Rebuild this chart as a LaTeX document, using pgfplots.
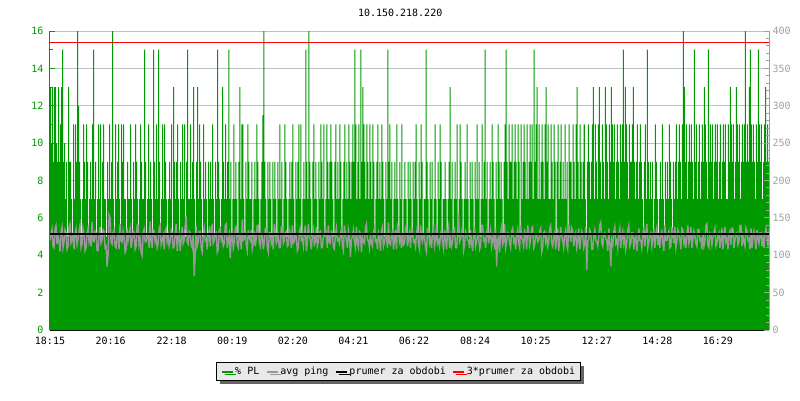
\documentclass[border=0pt]{standalone}
\usepackage{pgfplots}
\pgfplotsset{compat=1.18}
\usepackage{pgfplotstable}
\usepackage{fontspec}
\setmainfont{DejaVu Sans Mono}
\usetikzlibrary{shadows}
\definecolor{pgreen}{RGB}{0,153,0}
\definecolor{pgray}{RGB}{153,153,153}
\definecolor{lgray}{RGB}{160,160,160}
\definecolor{pred}{RGB}{255,0,0}
\definecolor{gridgray}{RGB}{192,192,192}
\definecolor{legbg}{RGB}{232,232,232}
\definecolor{shadowgray}{RGB}{100,100,100}

% % PL (packet loss), one value every 2 minutes
\pgfplotstableread[row sep=\\]{g\\
13\\10\\13\\9\\13\\13\\10\\9\\13\\9\\11\\13\\15\\9\\10\\7\\9\\5\\13\\9\\
9\\7\\5\\11\\7\\11\\9\\16\\12\\9\\7\\5\\7\\11\\9\\7\\11\\9\\5\\7\\
9\\7\\11\\15\\7\\9\\5\\7\\11\\7\\11\\5\\9\\11\\7\\7\\5\\9\\7\\11\\
7\\9\\16\\7\\5\\11\\7\\9\\11\\7\\5\\11\\9\\11\\7\\7\\5\\9\\7\\7\\
11\\7\\5\\9\\7\\11\\9\\7\\5\\7\\11\\9\\7\\7\\15\\9\\5\\7\\11\\7\\
9\\7\\5\\15\\9\\7\\11\\7\\15\\9\\5\\7\\11\\7\\11\\9\\7\\5\\7\\9\\
7\\11\\5\\13\\9\\7\\9\\11\\7\\5\\9\\7\\11\\7\\11\\5\\9\\15\\7\\7\\
11\\7\\9\\13\\7\\5\\9\\13\\7\\11\\9\\7\\5\\11\\7\\9\\7\\5\\9\\7\\
9\\7\\11\\7\\5\\9\\7\\15\\9\\7\\5\\7\\13\\9\\7\\11\\7\\9\\15\\7\\
9\\5\\7\\11\\7\\9\\7\\5\\9\\13\\7\\11\\11\\7\\5\\9\\7\\11\\9\\7\\
7\\9\\5\\7\\9\\7\\11\\9\\7\\5\\7\\9\\11.5\\16\\9\\7\\5\\9\\7\\9\\
7\\5\\9\\7\\9\\7\\5\\9\\7\\11\\7\\9\\5\\7\\11\\9\\7\\5\\7\\9\\
7\\9\\11\\7\\5\\9\\7\\9\\11\\7\\11\\5\\7\\9\\7\\15\\9\\7\\16\\9\\
7\\5\\9\\11\\7\\9\\7\\5\\9\\7\\11\\9\\7\\11\\5\\7\\11\\9\\7\\9\\
11\\9\\7\\5\\9\\11\\7\\9\\7\\11\\9\\5\\7\\9\\11\\7\\9\\7\\11\\9\\
7\\9\\11\\9\\15\\11\\7\\9\\11\\7\\15\\9\\13\\11\\9\\7\\11\\9\\7\\11\\
9\\7\\11\\9\\5\\7\\9\\11\\7\\9\\7\\11\\9\\7\\5\\9\\7\\15\\9\\11\\
7\\9\\5\\7\\9\\7\\11\\7\\5\\9\\7\\11\\5\\7\\9\\7\\5\\9\\7\\9\\
7\\5\\9\\7\\9\\11\\7\\5\\9\\7\\11\\9\\5\\7\\7\\15\\9\\7\\5\\9\\
7\\9\\5\\7\\11\\7\\5\\9\\7\\11\\9\\5\\7\\7\\9\\7\\5\\7\\9\\13\\
7\\9\\5\\7\\9\\7\\11\\5\\7\\11\\9\\7\\5\\7\\9\\7\\11\\7\\5\\9\\
7\\9\\7\\5\\9\\7\\11\\7\\9\\5\\7\\11\\7\\9\\15\\7\\9\\5\\7\\9\\
7\\11\\9\\7\\5\\9\\7\\11\\9\\7\\9\\7\\5\\9\\11\\15\\9\\7\\11\\9\\
9\\11\\7\\9\\11\\9\\7\\11\\9\\5\\11\\7\\9\\11\\9\\7\\11\\7\\9\\11\\
9\\11\\7\\15\\9\\11\\13\\7\\11\\7\\9\\11\\9\\7\\11\\13\\9\\11\\7\\7\\
11\\9\\7\\11\\9\\5\\9\\11\\7\\9\\11\\7\\9\\7\\11\\7\\9\\5\\11\\9\\
9\\7\\11\\9\\7\\11\\13\\9\\7\\11\\9\\7\\9\\11\\7\\5\\9\\11\\9\\7\\
9\\11\\13\\7\\11\\9\\7\\11\\13\\9\\7\\11\\9\\7\\13\\11\\9\\7\\11\\9\\
13\\11\\9\\11\\7\\9\\11\\9\\7\\11\\9\\11\\15\\9\\13\\11\\9\\7\\11\\9\\
9\\11\\13\\9\\7\\9\\11\\7\\9\\11\\9\\7\\5\\9\\11\\7\\15\\9\\7\\9\\
7\\9\\5\\7\\11\\9\\7\\5\\7\\9\\7\\11\\7\\5\\9\\7\\9\\7\\11\\9\\
7\\5\\9\\7\\9\\11\\7\\9\\11\\9\\7\\11\\16\\13\\9\\11\\7\\9\\11\\9\\
11\\9\\7\\15\\9\\11\\7\\9\\11\\7\\9\\11\\9\\13\\11\\9\\7\\15\\9\\11\\
9\\11\\7\\9\\11\\9\\11\\7\\9\\11\\7\\9\\11\\9\\11\\7\\7\\11\\9\\13\\
11\\9\\11\\7\\9\\13\\11\\9\\11\\7\\9\\11\\9\\11\\16\\9\\11\\9\\13\\15\\
11\\9\\11\\9\\7\\11\\9\\15\\11\\9\\11\\7\\9\\11\\13\\9\\11\\9\\7\\13\\
}\pldata

% avg ping in ms, one value every 2 minutes
\pgfplotstableread[row sep=\\]{p\\
120\\128\\135\\112\\110\\136\\140\\115\\125\\118\\105\\132\\138\\110\\118\\134\\130\\108\\112\\138\\
142\\116\\120\\130\\108\\128\\135\\114\\122\\132\\140\\110\\115\\136\\128\\106\\110\\130\\136\\118\\
124\\112\\145\\118\\118\\132\\130\\106\\106\\128\\138\\116\\120\\134\\132\\110\\112\\85\\100\\154\\
150\\118\\115\\130\\134\\112\\110\\126\\128\\108\\142\\120\\118\\132\\124\\104\\108\\136\\120\\128\\
136\\110\\120\\132\\130\\108\\112\\140\\140\\114\\122\\104\\100\\130\\135\\118\\118\\126\\128\\110\\
145\\120\\110\\134\\132\\118\\124\\110\\116\\136\\140\\114\\120\\126\\108\\132\\136\\118\\126\\112\\
118\\134\\130\\110\\112\\128\\142\\106\\124\\130\\106\\120\\138\\116\\120\\140\\152\\118\\115\\132\\
130\\114\\110\\128\\72\\100\\140\\112\\118\\132\\132\\110\\104\\126\\136\\120\\122\\108\\128\\134\\
112\\138\\140\\116\\120\\128\\130\\104\\108\\134\\136\\120\\124\\112\\116\\140\\142\\110\\120\\128\\
96\\124\\130\\110\\118\\136\\138\\114\\110\\128\\126\\108\\148\\120\\122\\132\\114\\106\\134\\124\\
120\\134\\108\\116\\132\\112\\124\\140\\140\\118\\112\\126\\128\\108\\118\\136\\136\\110\\104\\130\\
130\\116\\122\\108\\142\\132\\116\\120\\126\\110\\110\\138\\138\\116\\120\\130\\132\\112\\114\\134\\
128\\110\\140\\116\\118\\130\\124\\106\\110\\132\\136\\120\\122\\112\\130\\140\\106\\118\\142\\126\\
120\\108\\126\\134\\114\\118\\138\\112\\118\\130\\132\\110\\110\\124\\128\\140\\124\\110\\140\\118\\
116\\132\\130\\110\\108\\126\\136\\120\\122\\116\\128\\134\\112\\106\\140\\128\\120\\110\\134\\126\\
98\\120\\126\\134\\118\\110\\138\\116\\110\\132\\130\\104\\124\\118\\116\\138\\142\\120\\120\\110\\
128\\116\\112\\130\\136\\118\\120\\108\\130\\124\\106\\132\\138\\112\\118\\126\\126\\110\\144\\116\\
114\\128\\132\\108\\120\\134\\108\\140\\136\\118\\124\\110\\130\\114\\116\\136\\140\\112\\122\\130\\
110\\136\\134\\118\\120\\112\\128\\140\\114\\108\\140\\124\\118\\126\\126\\110\\104\\136\\136\\116\\
122\\110\\130\\136\\112\\120\\142\\116\\120\\112\\128\\134\\116\\108\\134\\122\\108\\130\\138\\110\\
124\\112\\118\\134\\136\\110\\110\\130\\155\\118\\122\\128\\140\\106\\114\\132\\128\\120\\120\\110\\
134\\116\\106\\128\\138\\112\\118\\126\\126\\108\\112\\140\\140\\120\\122\\110\\130\\136\\116\\126\\
134\\112\\120\\130\\108\\136\\85\\120\\124\\104\\130\\138\\114\\118\\142\\110\\118\\130\\128\\116\\
110\\132\\136\\118\\122\\108\\126\\134\\116\\110\\140\\124\\120\\112\\132\\128\\108\\140\\130\\114\\
122\\136\\138\\110\\114\\128\\128\\118\\120\\132\\136\\104\\110\\130\\132\\118\\126\\112\\118\\136\\
140\\116\\112\\124\\130\\108\\124\\136\\106\\120\\138\\126\\120\\110\\128\\134\\114\\108\\142\\130\\
118\\136\\132\\112\\124\\130\\110\\118\\136\\108\\120\\132\\128\\110\\116\\138\\80\\118\\122\\134\\
130\\108\\108\\126\\134\\120\\118\\112\\126\\140\\144\\116\\112\\128\\130\\122\\120\\106\\136\\118\\
85\\120\\114\\132\\138\\116\\120\\110\\128\\136\\110\\124\\132\\116\\126\\108\\118\\134\\140\\112\\
116\\130\\130\\108\\122\\126\\106\\118\\136\\120\\120\\110\\128\\138\\112\\130\\142\\110\\118\\128\\
130\\112\\122\\136\\110\\128\\136\\114\\124\\110\\128\\132\\116\\106\\140\\120\\120\\126\\132\\110\\
112\\138\\126\\116\\138\\110\\118\\134\\130\\120\\108\\136\\134\\116\\122\\110\\128\\140\\116\\122\\
138\\110\\120\\132\\126\\116\\112\\134\\134\\120\\122\\108\\130\\112\\118\\140\\142\\114\\110\\130\\
128\\114\\124\\130\\136\\112\\116\\126\\130\\110\\120\\136\\108\\124\\138\\118\\122\\108\\128\\132\\
114\\136\\136\\110\\120\\128\\130\\114\\118\\140\\140\\112\\126\\118\\112\\136\\132\\120\\122\\108\\
136\\110\\124\\132\\120\\108\\134\\122\\116\\130\\130\\112\\124\\110\\128\\136\\124\\112\\128\\118\\
}\pingdata

\begin{document}
\begin{tikzpicture}
\begin{axis}[
  name=main,
  at={(0pt,0pt)}, anchor=south west,
  scale only axis, width=719pt, height=299pt,
  xmin=0, xmax=1436, ymin=0, ymax=16,
  axis x line*=bottom, axis y line*=left,
  x axis line style={-, black, line width=1.5pt},
  y axis line style={-, pgreen, line width=1pt},
  xtick={0,121,243,364,485,606,727,849,970,1092,1213,1334},
  xticklabels={18:15,20:16,22:18,00:19,02:20,04:21,06:22,08:24,10:25,12:27,14:28,16:29},
  ytick={0,2,...,16},
  minor y tick num=1,
  tick align=inside,
  major tick length=5pt, minor tick length=3pt,
  x tick style={black, line width=1pt},
  y tick style={pgreen, line width=1pt},
  y tick label style={text=pgreen, xshift=-3pt},
  x tick label style={text=black, yshift=-4pt},
  /pgf/number format/assume math mode=true,
  ymajorgrids, major grid style={gridgray, line width=1pt},
  title={10.150.218.220},
  title style={at={(0.487,1)}, anchor=center, yshift=12pt},
  legend columns=4,
  legend style={at={(0.485,-0.139)}, anchor=center, draw=black, line width=1pt,
    fill=legbg, inner xsep=4pt, inner ysep=3pt,
    drop shadow={shadow xshift=3pt, shadow yshift=-3pt, fill=shadowgray, opacity=1},
    /tikz/every even column/.append style={column sep=5pt},
    nodes={inner sep=1.5pt, text=black}},
  legend image code/.code={\draw[#1, line width=2pt] (0pt,0pt) -- (11pt,0pt);},
]
\addplot[const plot, fill=pgreen, draw=none, forget plot]
  table[x expr=\coordindex*2, y=g] {\pldata} \closedcycle;
\addplot[sharp plot, draw=pgray, color=pgray, line width=1.4pt, forget plot,
  y filter/.expression={y/25}]
  table[x expr=\coordindex*2, y=p] {\pingdata};
\addplot[draw=black, color=black, line width=2pt, forget plot] coordinates {(0,5.12) (1436,5.12)};
\addplot[draw=pred, color=pred, line width=1pt, forget plot] coordinates {(0,15.36) (1436,15.36)};
\addlegendimage{draw=pgreen}
\addlegendentry{\% PL}
\addlegendimage{draw=pgray}
\addlegendentry{avg ping}
\addlegendimage{draw=black}
\addlegendentry{prumer za obdobi}
\addlegendimage{draw=pred}
\addlegendentry{3*prumer za obdobi}
\end{axis}
\begin{axis}[
  at={(0pt,0pt)}, anchor=south west,
  scale only axis, width=719pt, height=299pt,
  xmin=0, xmax=1436, ymin=0, ymax=400,
  axis x line=none, axis y line*=right,
  y axis line style={-, lgray, line width=1pt},
  ytick={0,50,...,400}, minor y tick num=4,
  tick align=inside,
  major tick length=5pt, minor tick length=3pt,
  y tick style={lgray, line width=1pt},
  y tick label style={text=lgray},
  /pgf/number format/assume math mode=true,
]
\addplot[draw=none] coordinates {(0,0)};
\end{axis}
\useasboundingbox (-50pt,-70pt) rectangle (750pt,330pt);
\end{tikzpicture}
\end{document}
